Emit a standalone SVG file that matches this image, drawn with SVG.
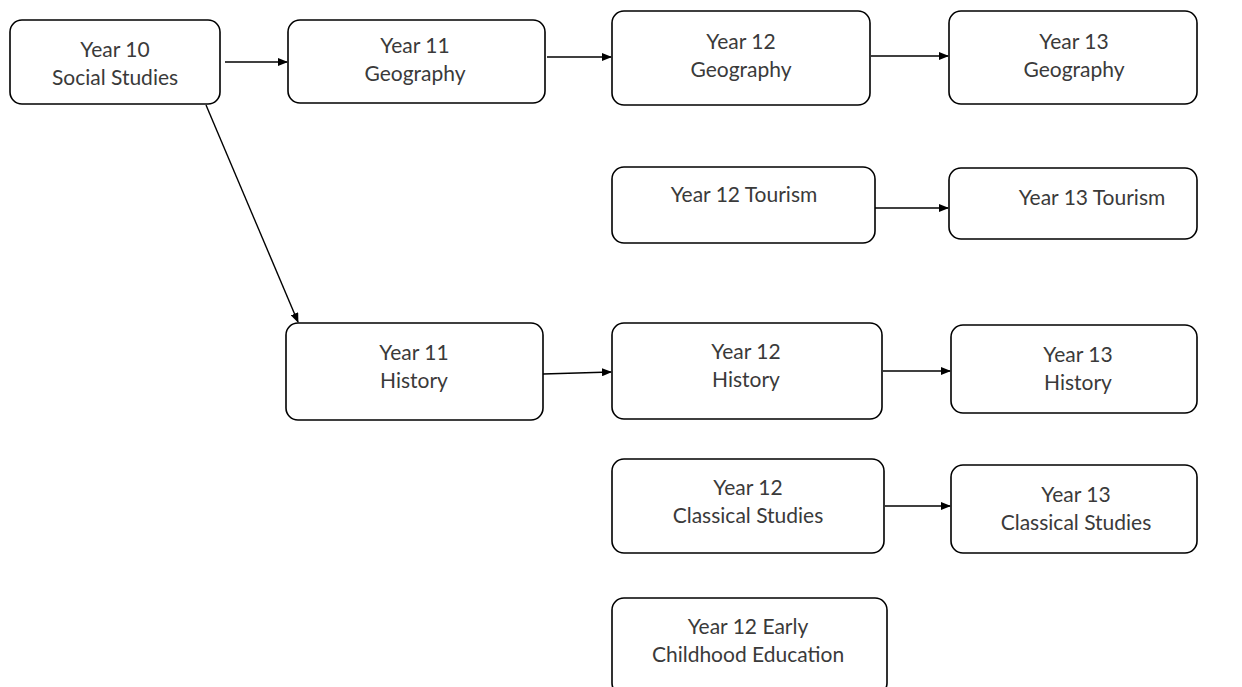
<svg xmlns="http://www.w3.org/2000/svg" width="1242" height="687" viewBox="0 0 1242 687">
<style>
.box{fill:#fff;stroke:#000;stroke-width:1.6}
.t{font-family:Lato,"Open Sans",sans-serif;font-size:21px;fill:#3a3a3a;text-anchor:middle}
.c{fill:none;stroke:#000;stroke-width:1.4}
</style>
<defs>
<marker id="ah" markerWidth="10" markerHeight="8" refX="9" refY="4" orient="auto" markerUnits="userSpaceOnUse">
<path d="M0,0 L10,4 L0,8 Z" fill="#000"/>
</marker>
</defs>
<rect width="1242" height="687" fill="#fff"/>
<g id="connectors">
<line class="c" x1="225" y1="62" x2="287" y2="62" marker-end="url(#ah)"/>
<line class="c" x1="547" y1="57" x2="611" y2="57" marker-end="url(#ah)"/>
<line class="c" x1="871" y1="56" x2="948" y2="56" marker-end="url(#ah)"/>
<line class="c" x1="206" y1="105" x2="298" y2="322" marker-end="url(#ah)"/>
<line class="c" x1="875" y1="208" x2="948" y2="208" marker-end="url(#ah)"/>
<line class="c" x1="543" y1="374" x2="611" y2="372" marker-end="url(#ah)"/>
<line class="c" x1="883" y1="371" x2="950" y2="371" marker-end="url(#ah)"/>
<line class="c" x1="885" y1="506" x2="950" y2="506" marker-end="url(#ah)"/>
</g>
<g id="n1"><rect class="box" x="10" y="20" width="210" height="84" rx="12"/><text class="t" x="115" y="57">Year 10</text><text class="t" x="115" y="85">Social Studies</text></g>
<g id="n2"><rect class="box" x="288" y="20" width="257" height="83" rx="12"/><text class="t" x="415" y="53">Year 11</text><text class="t" x="415" y="81">Geography</text></g>
<g id="n3"><rect class="box" x="612" y="11" width="258" height="94" rx="12"/><text class="t" x="741" y="49">Year 12</text><text class="t" x="741" y="77">Geography</text></g>
<g id="n4"><rect class="box" x="949" y="11" width="248" height="93" rx="12"/><text class="t" x="1074" y="49">Year 13</text><text class="t" x="1074" y="77">Geography</text></g>
<g id="n5"><rect class="box" x="612" y="167" width="263" height="76" rx="12"/><text class="t" x="744" y="202">Year 12 Tourism</text></g>
<g id="n6"><rect class="box" x="949" y="168" width="248" height="71" rx="12"/><text class="t" x="1092" y="205">Year 13 Tourism</text></g>
<g id="n7"><rect class="box" x="286" y="323" width="257" height="97" rx="12"/><text class="t" x="414" y="360">Year 11</text><text class="t" x="414" y="388">History</text></g>
<g id="n8"><rect class="box" x="612" y="323" width="270" height="96" rx="12"/><text class="t" x="746" y="359">Year 12</text><text class="t" x="746" y="387">History</text></g>
<g id="n9"><rect class="box" x="951" y="325" width="246" height="88" rx="12"/><text class="t" x="1078" y="362">Year 13</text><text class="t" x="1078" y="390">History</text></g>
<g id="n10"><rect class="box" x="612" y="459" width="272" height="94" rx="12"/><text class="t" x="748" y="495">Year 12</text><text class="t" x="748" y="523">Classical Studies</text></g>
<g id="n11"><rect class="box" x="951" y="465" width="246" height="88" rx="12"/><text class="t" x="1076" y="502">Year 13</text><text class="t" x="1076" y="530">Classical Studies</text></g>
<g id="n12"><rect class="box" x="612" y="598" width="275" height="97" rx="12"/><text class="t" x="748" y="634">Year 12 Early</text><text class="t" x="748" y="662">Childhood Education</text></g>
</svg>
